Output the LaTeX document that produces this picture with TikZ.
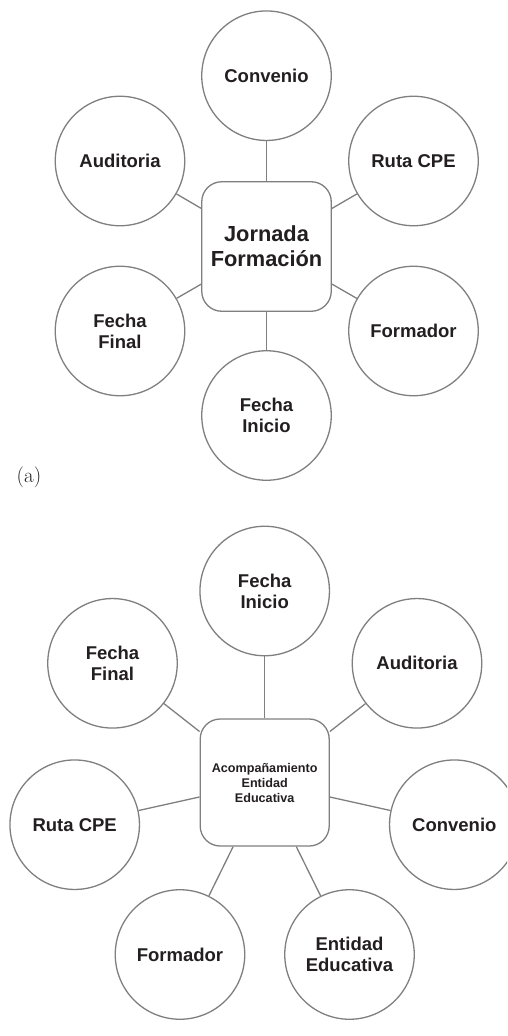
\documentclass[tikz,border=0pt]{standalone}
\usepackage{fontspec}
\newfontfamily\arialfont{Liberation Sans}
\definecolor{edgegray}{HTML}{7F7F7F}
\definecolor{txtdark}{HTML}{231F20}
\begin{document}
\begin{tikzpicture}[x=1pt,y=-1pt,
  bubble/.style={circle,draw=edgegray,line width=1.3pt,fill=white,minimum size=129.5pt,inner sep=0pt,
    align=center,text=txtdark,font=\arialfont\bfseries\fontsize{18.5}{21}\selectfont},
  hubbox/.style={rectangle,rounded corners=20pt,draw=edgegray,line width=1.3pt,fill=white,inner sep=0pt,
    align=center,text=txtdark},
  link/.style={draw=edgegray,line width=1.3pt}]
\useasboundingbox (0,0) rectangle (507,1036);
\clip (0,0) rectangle (507,1036);
% ---------- (a) ----------
\node[hubbox,minimum width=129.5pt,minimum height=129.5pt,
  font=\arialfont\bfseries\fontsize{21.8}{25}\selectfont] (ja) at (266.5,246.5) {Jornada\\Formación};
\node[bubble] (a1) at (266.5,75.7) {Convenio};
\node[bubble] (a2) at (120,161) {Auditoria};
\node[bubble] (a3) at (413.5,161) {Ruta CPE};
\node[bubble] (a4) at (120,331) {Fecha\\Final};
\node[bubble] (a5) at (413.5,331) {Formador};
\node[bubble] (a6) at (266.5,415.5) {Fecha\\Inicio};
\foreach \n in {a1,a2,a3,a4,a5,a6} \draw[link] (ja) -- (\n);
\node[font=\fontsize{21}{24}\selectfont,text=txtdark,inner sep=0pt] (lbl) at (29,477) {(a)};
% ---------- (b) ----------
\node[hubbox,minimum width=129pt,minimum height=127pt,
  font=\arialfont\bfseries\fontsize{12.6}{15}\selectfont] (ae) at (264.7,782.5) {Acompañamiento\\Entidad\\Educativa};
\node[bubble] (b1) at (264.7,591) {Fecha\\Inicio};
\node[bubble] (b2) at (112.5,663.3) {Fecha\\Final};
\node[bubble] (b3) at (417,663.3) {Auditoria};
\node[bubble] (b4) at (74.7,824.7) {Ruta CPE};
\node[bubble] (b5) at (454.3,824.7) {Convenio};
\node[bubble] (b6) at (180,954.5) {Formador};
\node[bubble] (b7) at (349.5,954.5) {Entidad\\Educativa};
\foreach \n in {b1,b2,b3,b4,b5,b6,b7} \draw[link] (ae) -- (\n);
\end{tikzpicture}
\end{document}
